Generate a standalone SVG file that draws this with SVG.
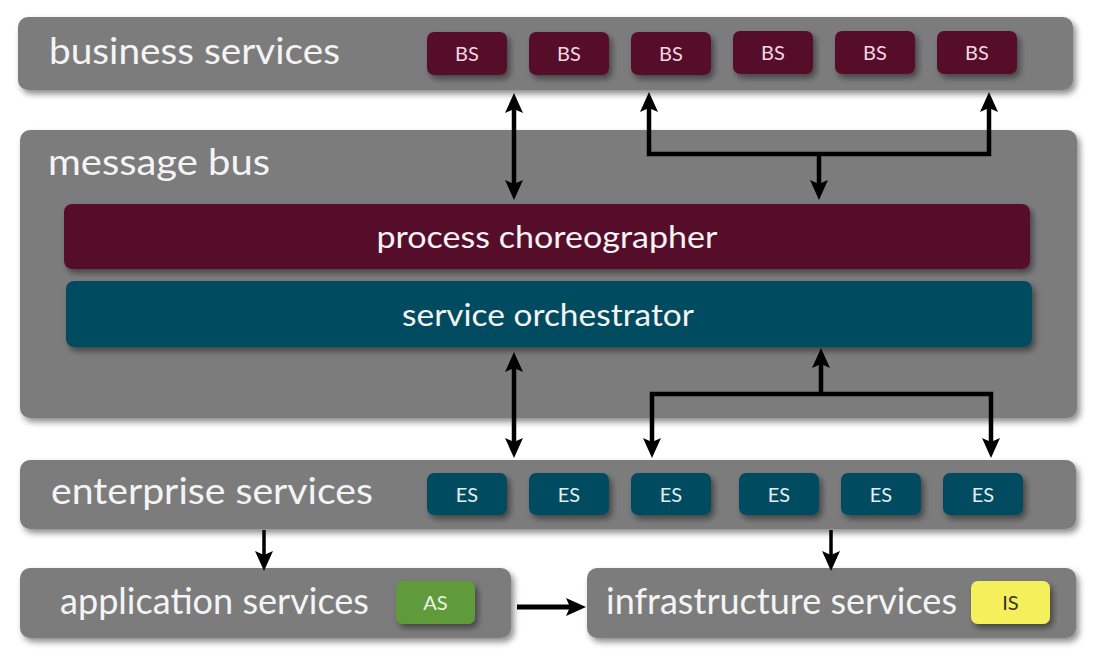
<svg xmlns="http://www.w3.org/2000/svg" width="1103" height="666" viewBox="0 0 1103 666">
<defs>
<filter id="sh" x="-10%" y="-30%" width="120%" height="170%">
<feDropShadow dx="3" dy="4" stdDeviation="3" flood-color="#000" flood-opacity="0.45"/>
</filter>
<marker id="ah" viewBox="0 0 20 18" markerWidth="20" markerHeight="18" refX="8" refY="9" orient="auto-start-reverse" markerUnits="userSpaceOnUse">
<path d="M0,0 L20,9 L0,18 L4,9 Z" fill="#000"/>
</marker>
</defs>
<style>
.bar{fill:#7b7b7b;filter:url(#sh)}
.lbl{font-family:Lato,"Liberation Sans",sans-serif;font-size:36px;fill:#f4f4f4}
.mid{font-family:Lato,"Liberation Sans",sans-serif;font-size:31px;fill:#f4f4f4;text-anchor:middle}
.bs{fill:#560f2a;filter:url(#sh)}
.es{fill:#004b60;filter:url(#sh)}
.tag{font-family:Lato,"Liberation Sans",sans-serif;font-size:20px;font-weight:400;text-anchor:middle}
.tb{fill:#f1d9e2}
.te{fill:#e3eef2}
.con{fill:none;stroke:#000;stroke-width:4.5;stroke-linejoin:miter}
</style>
<rect width="1103" height="666" fill="#fff"/>
<g id="business-services">
<rect class="bar" x="18" y="17" width="1055" height="73" rx="10"/>
<text class="lbl" x="49" y="64" textLength="291" lengthAdjust="spacingAndGlyphs">business services</text>
</g>
<g id="bs1"><rect class="bs" x="427" y="32" width="80" height="43" rx="7"/><text class="tag tb" x="467" y="61">BS</text></g>
<g id="bs2"><rect class="bs" x="529" y="32" width="80" height="43" rx="7"/><text class="tag tb" x="569" y="61">BS</text></g>
<g id="bs3"><rect class="bs" x="631" y="32" width="80" height="43" rx="7"/><text class="tag tb" x="671" y="61">BS</text></g>
<g id="bs4"><rect class="bs" x="733" y="31" width="80" height="43" rx="7"/><text class="tag tb" x="773" y="60">BS</text></g>
<g id="bs5"><rect class="bs" x="835" y="31" width="80" height="43" rx="7"/><text class="tag tb" x="875" y="60">BS</text></g>
<g id="bs6"><rect class="bs" x="937" y="31" width="80" height="43" rx="7"/><text class="tag tb" x="977" y="60">BS</text></g>
<g id="message-bus">
<rect class="bar" x="20" y="130" width="1057" height="288" rx="10"/>
<text class="lbl" x="48" y="175" textLength="222" lengthAdjust="spacingAndGlyphs">message bus</text>
</g>
<g id="process-choreographer">
<rect class="bs" x="64" y="204" width="966" height="65" rx="8"/>
<text class="mid" x="547" y="248" textLength="341" lengthAdjust="spacingAndGlyphs">process choreographer</text>
</g>
<g id="service-orchestrator">
<rect class="es" x="66" y="281" width="966" height="66" rx="8"/>
<text class="mid" x="548" y="326" textLength="292" lengthAdjust="spacingAndGlyphs">service orchestrator</text>
</g>
<g id="enterprise-services">
<rect class="bar" x="20" y="460" width="1056" height="69" rx="10"/>
<text class="lbl" x="51" y="504" textLength="322" lengthAdjust="spacingAndGlyphs">enterprise services</text>
</g>
<g id="es1"><rect class="es" x="427" y="473" width="80" height="42" rx="7"/><text class="tag te" x="467" y="501.5">ES</text></g>
<g id="es2"><rect class="es" x="529" y="473" width="80" height="42" rx="7"/><text class="tag te" x="569" y="501.5">ES</text></g>
<g id="es3"><rect class="es" x="631" y="473" width="80" height="42" rx="7"/><text class="tag te" x="671" y="501.5">ES</text></g>
<g id="es4"><rect class="es" x="739" y="473" width="80" height="42" rx="7"/><text class="tag te" x="779" y="501.5">ES</text></g>
<g id="es5"><rect class="es" x="841" y="473" width="80" height="42" rx="7"/><text class="tag te" x="881" y="501.5">ES</text></g>
<g id="es6"><rect class="es" x="943" y="473" width="80" height="42" rx="7"/><text class="tag te" x="983" y="501.5">ES</text></g>
<g id="application-services">
<rect class="bar" x="20" y="568" width="491" height="70" rx="10"/>
<text class="lbl" x="60" y="614" textLength="309" lengthAdjust="spacingAndGlyphs">application services</text>
<rect x="396" y="581" width="79" height="43" rx="7" fill="#619b3a" filter="url(#sh)"/>
<text class="tag" x="435.5" y="610" fill="#eef5e6">AS</text>
</g>
<g id="infrastructure-services">
<rect class="bar" x="587" y="568" width="489" height="70" rx="10"/>
<text class="lbl" x="606" y="614" textLength="351" lengthAdjust="spacingAndGlyphs">infrastructure services</text>
<rect x="971" y="581" width="79" height="43" rx="7" fill="#f5ef5c" filter="url(#sh)"/>
<text class="tag" x="1010.5" y="610" fill="#333">IS</text>
</g>
<g id="connectors">
<path class="con" d="M514,105 L514,188" marker-start="url(#ah)" marker-end="url(#ah)"/>
<path class="con" d="M649,104 L649,154 L989,154 L989,104" marker-start="url(#ah)" marker-end="url(#ah)"/>
<path class="con" d="M819,154 L819,188" marker-end="url(#ah)"/>
<path class="con" d="M514,364 L514,446" marker-start="url(#ah)" marker-end="url(#ah)"/>
<path class="con" d="M821,394 L821,360" marker-end="url(#ah)"/>
<path class="con" d="M652,446 L652,394 L991,394 L991,446" marker-start="url(#ah)" marker-end="url(#ah)"/>
<path class="con" d="M264,530 L264,559" marker-end="url(#ah)" style="stroke-width:3.5"/>
<path class="con" d="M831,530 L831,559" marker-end="url(#ah)" style="stroke-width:3.5"/>
<path class="con" d="M517,607 L574,607" marker-end="url(#ah)" style="stroke-width:5"/>
</g>
</svg>
